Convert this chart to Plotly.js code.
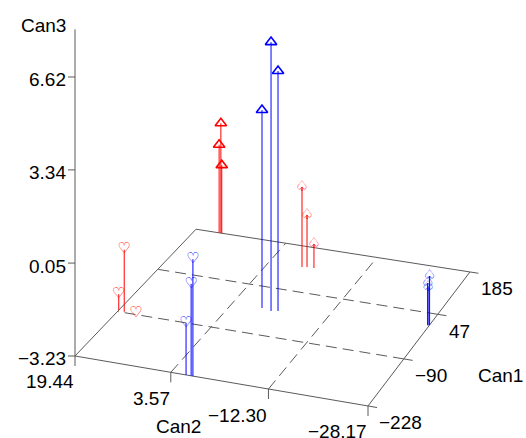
<!DOCTYPE html>
<html>
<head>
<meta charset="utf-8">
<script src="https://cdn.plot.ly/plotly-3.0.1.min.js"></script>
<style>
html, body {margin: 0; padding: 0; background: #fff;}
#plot {width: 526px; height: 438px;}
</style>
</head>
<body>
<div id="plot"></div>
<script>
// canonical scores, one entry per observation
var can1 = [-88, -86, -86,  -228, -228, -228,  185, 185, 185,  -14.8, -19.0, -15.8,  121.5, 123.9, 124.0,  13.5, 12.5, 11.5];
var can2 = [18.40, 19.44, 16.50,  -0.05, 0.24, 1.07,  15.02, 15.33, 14.86,  -1.45, -3.17, -4.20,  -2.11, -2.87, -4.06,  -28.17, -27.9, -28.0];
var can3 = [-0.98, -2.65, -3.23,  0.85, -0.02, -1.41,  0.95, 0.12, -0.64,  3.96, 6.52, 5.47,  -0.25, -1.29, -2.34,  -1.47, -1.72, -1.86];
var kind = [1, 1, 1,  1, 1, 1,  2, 2, 2,  2, 2, 2,  3, 3, 3,  3, 3, 3];
var set  = ['a', 'a', 'a',  'b', 'b', 'b',  'a', 'a', 'a',  'b', 'b', 'b',  'a', 'a', 'a',  'b', 'b', 'b'];

// axis ticks (first and last are the axis ends)
var can1Ticks = [-228, -90.33, 47.33, 185];
var can1Text = ['\u2212228', '\u221290', '47', '185'];
var can2Ticks = [19.44, 3.57, -12.30, -28.17];
var can2Text = ['19.44', '3.57', '\u221212.30', '\u221228.17'];
var can3Ticks = [-3.23, 0.05, 3.34, 6.62];
var can3Text = ['\u22123.23', '0.05', '3.34', '6.62'];

var setColor = {a: '#ff0000', b: '#0000ff'};
var kindGlyph = {1: '\u2661', 3: '\u2664'};   // kind 2 is drawn as a pyramid marker

var c1Min = -228, c1Max = 185;
var c2Min = -28.17, c2Max = 19.44;
var zMin = -3.23, zMax = 6.62, zTop = 8.3;

// level perspective camera (vertical lines stay vertical)
var cam = {
    f: 3991, cx: 263, horizon: -1350, height: 1,
    nearR: 0.0598, nearD: 2.2728,       // corner (c1Min, c2Min) on the floor
    e1: [0.0678, 0.1878],               // floor edge spanning Can1
    e2: [-0.1700, 0.0666],              // floor edge spanning Can2
    zSpan: 0.16354                      // height spanning zMin..zMax
};

function project(c1, c2, c3) {
    var a = (c1 - c1Min) / (c1Max - c1Min);
    var b = (c2 - c2Min) / (c2Max - c2Min);
    var h = (c3 - zMin) / (zMax - zMin) * cam.zSpan;
    var r = cam.nearR + a * cam.e1[0] + b * cam.e2[0];
    var d = cam.nearD + a * cam.e1[1] + b * cam.e2[1];
    return [cam.cx + cam.f * r / d, cam.horizon + cam.f * (cam.height - h) / d];
}

function segs(list) {
    var x = [], y = [];
    list.forEach(function(s) {
        s.forEach(function(p) { x.push(p[0]); y.push(p[1]); });
        x.push(null); y.push(null);
    });
    return {x: x, y: y};
}

function lineTrace(list, color, dash) {
    var s = segs(list);
    return {
        type: 'scatter', mode: 'lines', x: s.x, y: s.y,
        line: {color: color, width: 1, dash: dash || 'solid'},
        hoverinfo: 'skip', showlegend: false, connectgaps: false
    };
}

var gray = '#5a5a5a';
var traces = [];

// floor frame
var A = project(c1Min, c2Max, zMin), B = project(c1Min, c2Min, zMin);
var C = project(c1Max, c2Min, zMin), D = project(c1Max, c2Max, zMin);
traces.push(lineTrace([[A, B, C, D, A]], gray));

// dashed floor reference lines at the inner ticks
var grid = [];
can1Ticks.slice(1, 3).forEach(function(t) {
    grid.push([project(t, c2Min, zMin), project(t, c2Max, zMin)]);
});
can2Ticks.slice(1, 3).forEach(function(t) {
    grid.push([project(c1Min, t, zMin), project(c1Max, t, zMin)]);
});
traces.push(lineTrace(grid, gray, '11px,6px'));

// vertical axis and tick marks
var axes = [[A, project(c1Min, c2Max, zTop)]];
can3Ticks.forEach(function(t) {
    var p = project(c1Min, c2Max, t);
    axes.push([p, [p[0] - 7, p[1]]]);
});
can2Ticks.forEach(function(t) {
    var p = project(c1Min, t, zMin);
    axes.push([p, [p[0], p[1] + 10]]);
});
can1Ticks.forEach(function(t) {
    var p = project(t, c2Min, zMin);
    var q = project(t, c2Min - 0.03 * (c2Max - c2Min), zMin);
    axes.push([p, q]);
});
traces.push(lineTrace(axes, gray));

// needles and symbols, one pair of traces per group
[1, 2, 3].forEach(function(k) {
    ['a', 'b'].forEach(function(s) {
        var needles = [], px = [], py = [];
        for (var i = 0; i < can1.length; i++) {
            if (kind[i] != k || set[i] != s) continue;
            var top = project(can1[i], can2[i], can3[i]);
            needles.push([project(can1[i], can2[i], zMin), top]);
            px.push(top[0]); py.push(top[1]);
        }
        traces.push(lineTrace(needles, setColor[s]));
        if (k == 2) {
            traces.push({
                type: 'scatter', mode: 'markers', x: px, y: py,
                marker: {symbol: 'triangle-up-open', size: 10, color: setColor[s],
                         line: {color: setColor[s], width: 1.6}},
                hoverinfo: 'skip', showlegend: false
            });
        } else {
            traces.push({
                type: 'scatter', mode: 'text', x: px, y: py,
                text: px.map(function() { return kindGlyph[k]; }),
                textposition: 'middle center',
                textfont: {family: 'DejaVu Sans', size: 15, color: setColor[s]},
                hoverinfo: 'skip', showlegend: false
            });
        }
    });
});

var labelFont = {family: 'Liberation Sans, Arial, sans-serif', size: 19, color: '#000'};
var annotations = [];
function label(text, p, xanchor, dx, dy) {
    annotations.push({
        text: text, x: p[0], y: p[1], xref: 'x', yref: 'y',
        xanchor: xanchor, yanchor: 'middle', xshift: dx, yshift: dy,
        showarrow: false, font: labelFont
    });
}
can3Ticks.forEach(function(t, i) { label(can3Text[i], project(c1Min, c2Max, t), 'right', -7, -3); });
can2Ticks.forEach(function(t, i) { label(can2Text[i], project(c1Min, t, zMin), 'right', 1, -26); });
can1Ticks.forEach(function(t, i) { label(can1Text[i], project(t, c2Min, zMin), 'left', 9, -17); });
label('Can3', [43.5, 25], 'center', 0, 0);
label('Can2', [178.5, 426], 'center', 0, 0);
label('Can1', [500.5, 375], 'center', 0, 0);

var layout = {
    width: 526,
    height: 438,
    margin: {l: 0, r: 0, t: 0, b: 0},
    paper_bgcolor: '#fff',
    plot_bgcolor: '#fff',
    showlegend: false,
    hovermode: false,
    xaxis: {range: [0, 526], visible: false, fixedrange: true},
    yaxis: {range: [438, 0], visible: false, fixedrange: true},
    annotations: annotations
};

Plotly.newPlot('plot', traces, layout, {displayModeBar: false, staticPlot: true});
</script>
</body>
</html>
